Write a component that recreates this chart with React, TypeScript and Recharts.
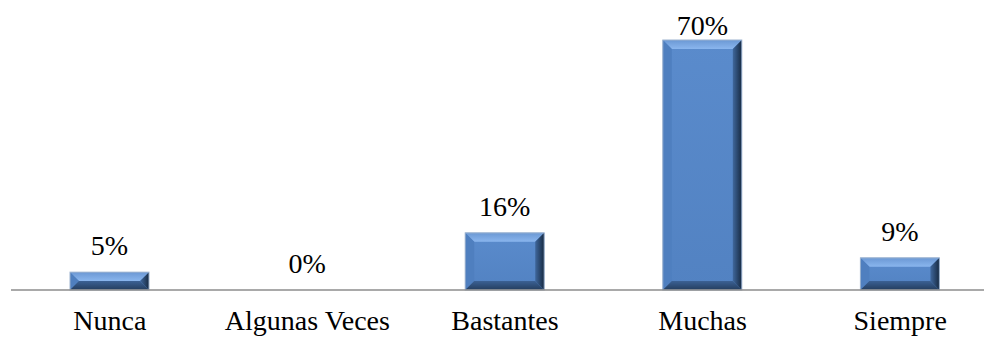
import React from "react";
import { BarChart, Bar, XAxis, YAxis, LabelList } from "recharts";

const categories = ["Nunca", "Algunas Veces", "Bastantes", "Muchas", "Siempre"];
const percentages = [5, 0, 16, 70, 9];

const data = categories.map((name, i) => ({ name, value: percentages[i] }));

const FONT = "Times New Roman, Liberation Serif, DejaVu Serif, serif";

// bar with bevelled edges: light top, dark right and bottom
const BevelBar = (props: any) => {
  const { x, y, width: w, height: h } = props;
  if (!h || h <= 0) return null;
  const b = Math.min(9, h / 2, w / 2);
  const pts = (arr: number[][]) => arr.map((p) => p.join(",")).join(" ");
  return (
    <g>
      <rect x={x} y={y} width={w} height={h} fill="url(#bevelFace)" />
      <polygon
        points={pts([[x, y], [x + w, y], [x + w - b, y + b], [x + b, y + b]])}
        fill="url(#bevelTop)"
      />
      <polygon
        points={pts([[x, y], [x + b, y + b], [x + b, y + h - b], [x, y + h]])}
        fill="#4f7fbf"
      />
      <polygon
        points={pts([[x + w, y], [x + w - b, y + b], [x + w - b, y + h - b], [x + w, y + h]])}
        fill="url(#bevelRight)"
      />
      <polygon
        points={pts([[x, y + h], [x + w, y + h], [x + w - b, y + h - b], [x + b, y + h - b]])}
        fill="url(#bevelBottom)"
      />
      <rect x={x} y={y} width={w} height={h} fill="none" stroke="#9db3cf" strokeWidth={1} />
    </g>
  );
};

const ValueLabel = (props: any) => {
  const { x, y, width, value } = props;
  const ty = Math.max(y - 17, 35);
  return (
    <text
      x={x + width / 2}
      y={ty}
      textAnchor="middle"
      style={{ fontFamily: FONT, fontSize: 28 }}
      fill="#000"
    >
      {`${value}%`}
    </text>
  );
};

export default function App() {
  return (
    <div
      style={{
        width: 984,
        height: 339,
        overflow: "hidden",
        background: "#fff",
        fontFamily: FONT,
      }}
    >
      <style>{`body{margin:0;overflow:hidden}`}</style>
      <BarChart
        width={999}
        height={339}
        data={data}
        margin={{ top: 40, right: 0, left: 11, bottom: 0 }}
        barCategoryGap={0}
        style={{ fontFamily: FONT }}
      >
        <defs>
          <linearGradient id="bevelFace" x1="0" y1="0" x2="0" y2="1">
            <stop offset="0%" stopColor="#5a8bcc" />
            <stop offset="100%" stopColor="#5282c2" />
          </linearGradient>
          <linearGradient id="bevelTop" x1="0" y1="0" x2="0" y2="1">
            <stop offset="0%" stopColor="#6b98d4" />
            <stop offset="100%" stopColor="#8ab6ee" />
          </linearGradient>
          <linearGradient id="bevelRight" x1="0" y1="0" x2="1" y2="0">
            <stop offset="0%" stopColor="#3f679c" />
            <stop offset="100%" stopColor="#172a42" />
          </linearGradient>
          <linearGradient id="bevelBottom" x1="0" y1="0" x2="0" y2="1">
            <stop offset="0%" stopColor="#3b6194" />
            <stop offset="100%" stopColor="#243d5e" />
          </linearGradient>
        </defs>
        <XAxis
          dataKey="name"
          height={49}
          tickLine={false}
          tickSize={0}
          tickMargin={20}
          axisLine={{ stroke: "#8c8c8c", strokeWidth: 1.5 }}
          tick={{ fontFamily: FONT, fontSize: 28, fill: "#000" }}
          interval={0}
        />
        <YAxis hide domain={[0, 70]} />
        <Bar
          dataKey="value"
          barSize={79}
          shape={BevelBar}
          isAnimationActive={false}
        >
          <LabelList dataKey="value" content={ValueLabel} />
        </Bar>
      </BarChart>
    </div>
  );
}
